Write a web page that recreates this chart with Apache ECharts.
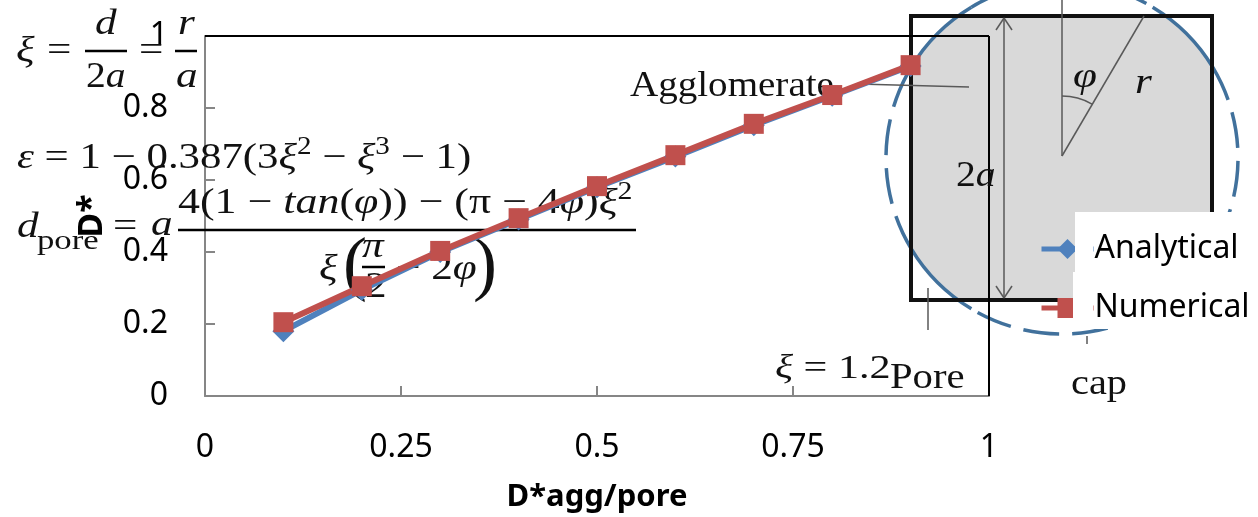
<!DOCTYPE html>
<html>
<head>
<meta charset="utf-8">
<style>
html,body{margin:0;padding:0;background:#fff;}
#main{width:1258px;height:517px;}
</style>
<script src="https://cdn.jsdelivr.net/npm/echarts@6/dist/echarts.min.js"></script>
</head>
<body>
<div id="main"></div>
<script>
// 曲线数据
var xValues = [0.1, 0.2, 0.3, 0.4, 0.5, 0.6, 0.7, 0.8, 0.9];
var analytical = [0.18, 0.295, 0.4, 0.49, 0.58, 0.665, 0.752, 0.834, 0.917];
var numerical = [0.205, 0.305, 0.403, 0.494, 0.583, 0.669, 0.756, 0.836, 0.919];
var seriesNames = ['Analytical', 'Numerical'];
var seriesColors = ['#4f81bd', '#c0504d'];

function pairs(ys) {
	return xValues.map(function(x, i) {
		return [x, ys[i]];
	});
}

var serif = '"Liberation Serif","DejaVu Serif",serif';
var inkLine = '#595959';

// 文字
function txt(str, x, y, size, italic, sx) {
	return {
		type: 'text', z: 1, x: x, y: y, scaleX: sx || 1.2,
		style: {
			text: str, fontFamily: serif, fontSize: size,
			fontStyle: italic ? 'italic' : 'normal',
			fill: '#111', verticalAlign: 'middle'
		}
	};
}
// 公式(rich)
function rich(str, x, y, size, sx) {
	return {
		type: 'text', z: 1, x: x, y: y, scaleX: sx || 1.2,
		style: {
			text: str, fontFamily: serif, fontSize: size, fill: '#111', verticalAlign: 'middle',
			rich: {
				r: {fontFamily: serif, fontSize: size, fill: '#111'},
				i: {fontFamily: serif, fontSize: size, fontStyle: 'italic', fill: '#111'},
				s: {fontFamily: serif, fontSize: size * 0.68, fill: '#111', verticalAlign: 'top', lineHeight: size * 1.3}
			}
		}
	};
}
function seg(x1, y1, x2, y2, w, color) {
	return {
		type: 'line', z: 1,
		shape: {x1: x1, y1: y1, x2: x2, y2: y2},
		style: {stroke: color || '#000', lineWidth: w || 2}
	};
}
function arc(a0, a1, dashed) {
	return {
		type: 'arc', z: 1,
		shape: {cx: 1062, cy: 158, r: 176, startAngle: a0 * Math.PI / 180, endAngle: a1 * Math.PI / 180},
		style: {stroke: '#41719c', lineWidth: 3.5, fill: null, lineDash: dashed ? [36, 13] : null}
	};
}
// 灰色区域的轮廓:圆被正方形裁切
function grayOutline() {
	var pts = [];
	for (var a = 0; a < 360; a += 2) {
		var px = 1062 + 176 * Math.cos(a * Math.PI / 180);
		var py = 158 + 176 * Math.sin(a * Math.PI / 180);
		pts.push([Math.max(911, Math.min(1212, px)), Math.max(16, Math.min(300, py))]);
	}
	return pts;
}

var figure = [
	{
		type: 'polygon', z: 0,
		shape: {points: grayOutline()},
		style: {fill: '#d9d9d9'}
	},
	arc(-31, 31, true), arc(31, 59, false), arc(59, 121, true), arc(121, 149, false),
	arc(149, 211, true), arc(211, 239, false), arc(239, 301, true), arc(301, 329, false),
	{
		type: 'rect', z: 1,
		shape: {x: 911, y: 16, width: 301, height: 284},
		style: {fill: null, stroke: '#111', lineWidth: 4}
	},
	// 内部线条
	seg(1062, 0, 1062, 156, 1.5, inkLine),
	seg(1062, 156, 1144, 16, 1.5, inkLine),
	{
		type: 'arc', z: 1,
		shape: {cx: 1062, cy: 156, r: 60, startAngle: -Math.PI / 2, endAngle: -Math.PI / 3},
		style: {stroke: inkLine, lineWidth: 1.5, fill: null}
	},
	seg(1004, 18, 1004, 298, 1.5, inkLine),
	seg(996, 30, 1004, 18, 1.5, inkLine),
	seg(1012, 30, 1004, 18, 1.5, inkLine),
	seg(996, 286, 1004, 298, 1.5, inkLine),
	seg(1012, 286, 1004, 298, 1.5, inkLine),
	seg(858, 84, 969, 87, 1.5, inkLine),
	seg(928, 288, 928, 330, 1.5, inkLine),
	seg(1087, 336, 1087, 344, 1.5, inkLine),
	// 外框
	seg(205, 36, 989, 36, 2),
	seg(989, 36, 989, 396, 2),
	txt('φ', 1073, 78, 36, true),
	txt('r', 1135, 84, 36, true),
	rich('{r|2}{i|a}', 956, 177, 36, 1.1),
	txt('Agglomerate', 630, 87, 36, false, 1.085),
	txt('Pore', 890, 379, 36, false, 1.13),
	txt('cap', 1071, 385, 36, false, 1.12),
	rich('{i|ξ} {r|= 1.2}', 775, 369, 34, 1.24),
	// 公式一
	txt('ξ', 16, 52, 36, true),
	txt('=', 47, 52, 36),
	txt('d', 95, 25, 36, true),
	seg(85, 51, 127, 51, 2.5),
	rich('{r|2}{i|a}', 86, 78, 36, 1.1),
	txt('=', 139, 52, 36),
	txt('r', 178, 25, 36, true),
	seg(175, 51, 197, 51, 2.5),
	txt('a', 176, 78, 36, true),
	// 公式二
	rich('{i|ε} {r|= 1 − 0.387(3}{i|ξ}{s|2}{r| − }{i|ξ}{s|3}{r| − 1)}', 17, 159, 36, 1.19),
	// 公式三
	txt('d', 17, 228, 36, true),
	txt('pore', 37, 242, 28, false, 1.24),
	txt('=', 113, 228, 36),
	txt('a', 151, 226, 36, true),
	rich('{r|4(1 − }{i|tan}{r|(}{i|φ}{r|)) − (π − 4}{i|φ}{r|)}{i|ξ}{s|2}', 178, 204, 36, 1.22),
	seg(178, 230, 636, 230, 2.5),
	txt('ξ', 319, 270, 36, true),
	txt('(', 343, 268, 72, false, 1),
	txt('π', 362, 248, 36, true),
	seg(362, 267, 385, 267, 2.5),
	txt('2', 365, 288, 36),
	rich('{r|− 2}{i|φ}', 396, 270, 36, 1.2),
	txt(')', 473, 268, 72, false, 1),
	// 图例背景
	{type: 'rect', z: 3, shape: {x: 1075, y: 212, width: 183, height: 60}, style: {fill: '#fff'}},
	{type: 'rect', z: 3, shape: {x: 1073, y: 272, width: 185, height: 57}, style: {fill: '#fff'}},
	{type: 'rect', z: 5, shape: {x: 1075, y: 228, width: 18, height: 36}, style: {fill: '#fff'}},
	{type: 'rect', z: 5, shape: {x: 1073, y: 288, width: 20, height: 36}, style: {fill: '#fff'}}
];

var labelFont = {fontFamily: '"Noto Sans"', fontSize: 32, color: '#000'};
var axisStyle = {lineStyle: {color: '#868686', width: 2}};

var myChart = echarts.init(document.getElementById('main'));
var option = {
	animation: false,
	backgroundColor: '#fff',
	grid: {left: 205, right: 269, top: 36, bottom: 121, outerBoundsMode: 'none'},
	graphic: figure,
	legend: {
		left: 1039, top: 233, orient: 'vertical', padding: 0,
		itemWidth: 52, itemHeight: 25, itemGap: 27,
		selectedMode: false, z: 4,
		lineStyle: {width: 5},
		data: seriesNames,
		textStyle: {fontFamily: '"Noto Sans"', fontSize: 32, color: '#000', padding: [0, 0, 0, -4]}
	},
	xAxis: {
		type: 'value', min: 0, max: 1, interval: 0.25,
		name: 'D*agg/pore', nameLocation: 'middle', nameGap: 86,
		nameTextStyle: {fontFamily: '"Noto Sans"', fontWeight: 'bold', fontSize: 31, color: '#000'},
		axisLine: axisStyle,
		axisTick: {show: true, inside: true, length: 10, lineStyle: axisStyle.lineStyle},
		axisLabel: Object.assign({margin: 36, showMaxLabel: true, hideOverlap: false}, labelFont),
		splitLine: {show: false}
	},
	yAxis: {
		type: 'value', min: 0, max: 1, interval: 0.2,
		name: 'D*', nameLocation: 'middle', nameGap: 96, nameRotate: 90,
		nameTextStyle: {fontFamily: '"Noto Sans"', fontWeight: 'bold', fontSize: 34, color: '#000'},
		axisLine: axisStyle,
		axisTick: {show: true, inside: true, length: 10, lineStyle: axisStyle.lineStyle},
		axisLabel: Object.assign({margin: 37, padding: [10, 0, 0, 0]}, labelFont),
		splitLine: {show: false}
	},
	series: [{
		name: seriesNames[0], type: 'line', data: pairs(analytical),
		symbol: 'diamond', symbolSize: 22, showAllSymbol: true, z: 2,
		itemStyle: {color: seriesColors[0]},
		lineStyle: {color: seriesColors[0], width: 6}
	}, {
		name: seriesNames[1], type: 'line', data: pairs(numerical),
		symbol: 'rect', symbolSize: 20, showAllSymbol: true, z: 2,
		itemStyle: {color: seriesColors[1]},
		lineStyle: {color: seriesColors[1], width: 6}
	}]
};
myChart.setOption(option);
</script>
</body>
</html>
